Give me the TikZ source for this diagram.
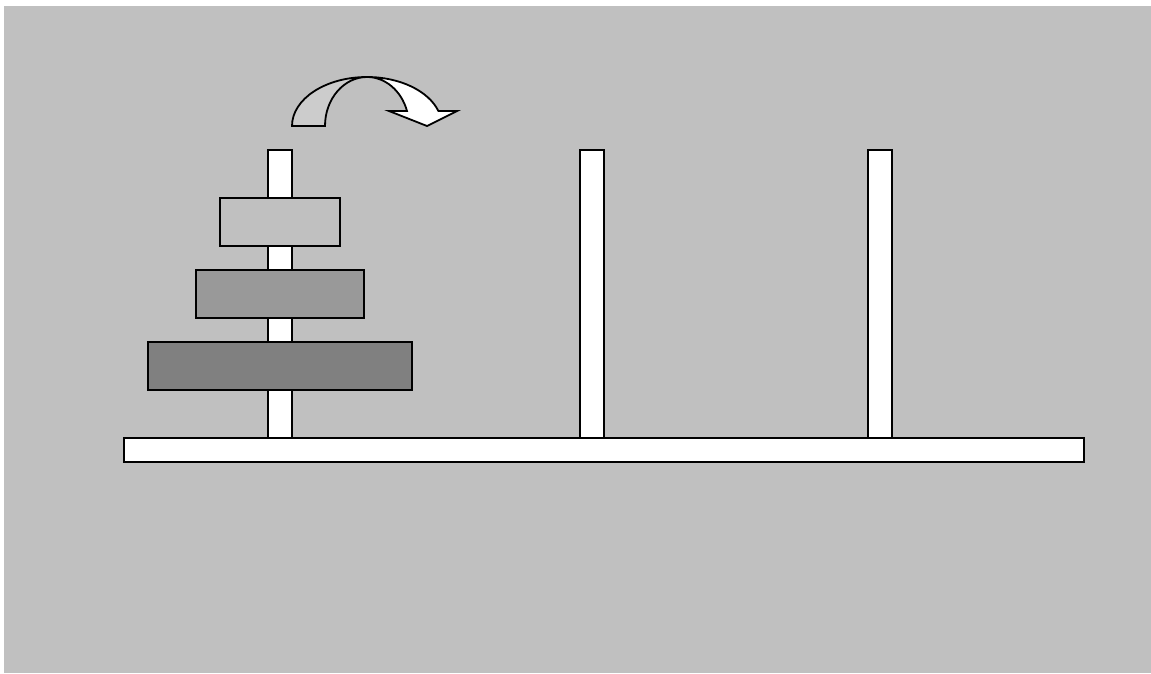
\documentclass[tikz,border=0pt]{standalone}
\begin{document}
\begin{tikzpicture}[x=1pt,y=-1pt,
  part/.style={draw=black,line width=2.2pt},
  pegbox/.style={part,fill=white},
  arrowpart/.style={draw=black,line width=1.8pt,line join=miter}]
\useasboundingbox (0,0) rectangle (1151,673);
\fill[white] (0,0) rectangle (1151,673);
\fill[gray!100!white,fill={rgb,255:red,192;green,192;blue,192}] (4,6) rectangle (1151,673);
% pegs
\draw[pegbox] (268,150) rectangle (292,438);
\draw[pegbox] (580,150) rectangle (604,438);
\draw[pegbox] (868,150) rectangle (892,438);
% base
\draw[pegbox] (124,438) rectangle (1084,462);
% disks
\draw[part,fill={rgb,255:red,192;green,192;blue,192}] (220,198) rectangle (340,246);
\draw[part,fill={rgb,255:red,153;green,153;blue,153}] (196,270) rectangle (364,318);
\draw[part,fill={rgb,255:red,128;green,128;blue,128}] (148,342) rectangle (412,390);
% curved arrow: back (grey) part
\filldraw[arrowpart,fill={rgb,255:red,204;green,204;blue,204}]
  (292,126) arc[start angle=180,end angle=270,x radius=75,y radius=49]
  arc[start angle=270,end angle=180,x radius=42,y radius=49] -- cycle;
% front (white) part with head
\filldraw[arrowpart,fill=white]
  (367,77) arc[start angle=270,end angle=342.2,x radius=75,y radius=49]
  -- (457,111) -- (427,126) -- (389,111) -- (407,111)
  arc[start angle=342.2,end angle=270,x radius=42,y radius=49] -- cycle;
\end{tikzpicture}
\end{document}
